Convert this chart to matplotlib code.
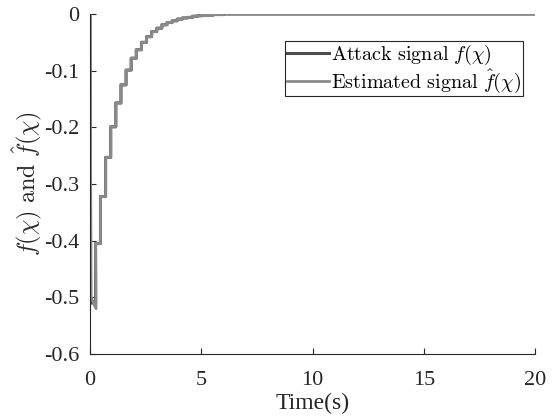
import matplotlib
matplotlib.use("Agg")
import matplotlib.pyplot as plt
import numpy as np

plt.rcParams['font.family'] = ['Liberation Serif', 'DejaVu Serif']
plt.rcParams['mathtext.fontset'] = 'cm'

# Step change times (s) and step values
step_times = [0.0, 0.25, 0.47, 0.70, 0.93, 1.16, 1.39, 1.62, 1.85, 2.08, 2.31,
              2.54, 2.77, 3.00, 3.23, 3.46, 3.69, 3.92, 4.15, 4.38, 4.61,
              4.84, 5.07, 5.30, 5.53, 5.76, 6.0, 20.0]
attack_vals = [-0.510, -0.405, -0.322, -0.253, -0.199, -0.157, -0.125, -0.099,
               -0.078, -0.063, -0.050, -0.040, -0.031, -0.025, -0.019, -0.015,
               -0.012, -0.009, -0.007, -0.006, -0.004, -0.003, -0.002, -0.002,
               -0.001, -0.001, 0.0, 0.0]

# Initial transient (start at zero then drop)
attack_t0 = [0.0, 0.02]
attack_v0 = [0.0, -0.510]
est_t0 = [0.0, 0.05, 0.27]
est_v0 = [0.0, -0.500, -0.520]

xticks = [0, 5, 10, 15, 20]
yticks = [0, -0.1, -0.2, -0.3, -0.4, -0.5, -0.6]
yticklabels = ['0', '-0.1', '-0.2', '-0.3', '-0.4', '-0.5', '-0.6']

# build staircase series
def stairs(times, vals):
    t, v = [], []
    for i in range(len(vals) - 1):
        t += [times[i], times[i + 1]]
        v += [vals[i], vals[i]]
    return t, v

st, sv = stairs(step_times, attack_vals)
at = attack_t0 + st[1:]
av = attack_v0 + sv[1:]
et = est_t0 + st[2:]
ev = est_v0 + sv[2:]

fig = plt.figure(figsize=(5.54, 4.19), dpi=100)
ax = fig.add_axes([0.1625, 0.155, 0.8032, 0.8116])

ax.plot(at, av, color='#4d4d4d', lw=2.2, label=r'$\mathrm{Attack\ signal}\ f(\chi)$')
ax.plot(et, ev, color='#8a8a8a', lw=2.0, label=r'$\mathrm{Estimated\ signal}\ \hat{f}(\chi)$')

ax.set_xlim(0, 20)
ax.set_ylim(-0.6, 0)
ax.set_xticks(xticks)
ax.set_yticks(yticks)
ax.set_yticklabels(yticklabels)
ax.tick_params(direction='in', length=4, labelsize=16, colors='#262626', width=0.8)
ax.tick_params(axis='y', pad=8)
ax.tick_params(axis='x', pad=12)
for s in ['top', 'right']:
    ax.spines[s].set_visible(False)
for s in ['left', 'bottom']:
    ax.spines[s].set_color('#262626')
    ax.spines[s].set_linewidth(0.8)

ax.set_xlabel('Time(s)', fontsize=17, color='#262626', labelpad=2)
ax.set_ylabel(r'$f(\chi)\ \mathrm{and}\ \hat{f}(\chi)$', fontsize=17.5, color='#262626', labelpad=0)

leg = ax.legend(loc='upper right', bbox_to_anchor=(523/554, 1 - 41/419),
                bbox_transform=fig.transFigure, fontsize=14.5, frameon=True,
                fancybox=False, edgecolor='#262626', framealpha=1,
                handlelength=2.1, handletextpad=0.1, borderpad=0.08,
                labelspacing=0.0, borderaxespad=0, handleheight=0.5)
leg.get_frame().set_linewidth(0.8)

fig.savefig('out.png', dpi=100)
